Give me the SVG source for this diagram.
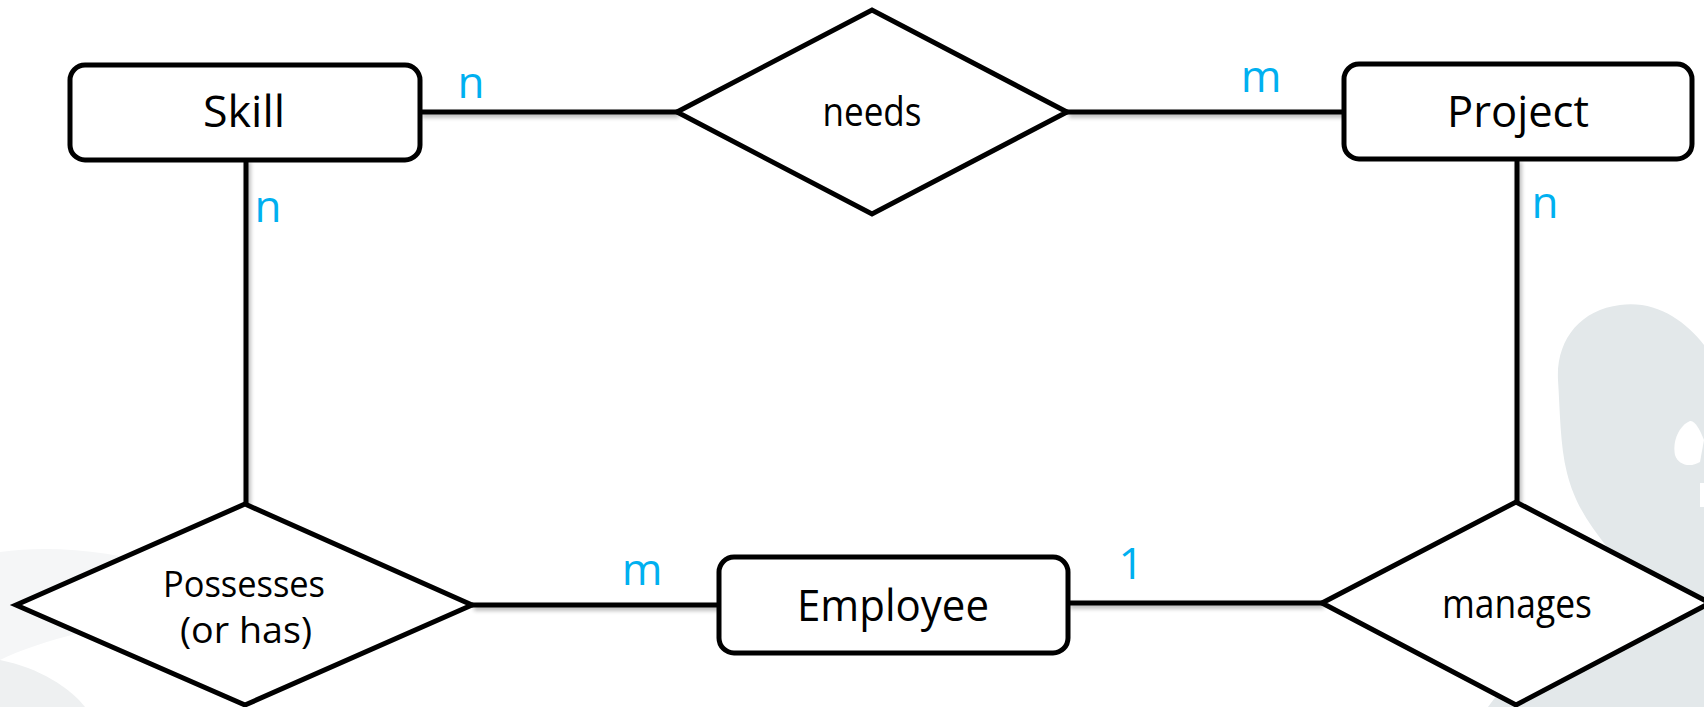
<svg xmlns="http://www.w3.org/2000/svg" width="1704" height="707" viewBox="0 0 1704 707">
<defs>
<filter id="sh" x="-5%" y="-50%" width="110%" height="200%">
<feGaussianBlur in="SourceAlpha" stdDeviation="2"/>
<feOffset dx="2" dy="3" result="o"/>
<feComponentTransfer><feFuncA type="linear" slope="0.3"/></feComponentTransfer>
<feMerge><feMergeNode/><feMergeNode in="SourceGraphic"/></feMerge>
</filter>
</defs>
<style>
.ent{fill:#fff;stroke:#000;stroke-width:5}
.rel{fill:#fff;stroke:#000;stroke-width:5;stroke-linejoin:miter}
.con{stroke:#000;stroke-width:5;fill:none}
.t{font-family:"Open Sans","Noto Sans","DejaVu Sans",sans-serif;fill:#000;text-anchor:middle}
.lb{font-family:"Open Sans","Noto Sans","DejaVu Sans",sans-serif;fill:#00B0F0;font-size:44px;text-anchor:middle}
</style>
<rect width="1704" height="707" fill="#fff"/>
<g id="background">
<path d="M0,552 C50,545 110,550 170,568 L150,620 L80,633 C50,640 20,650 0,660 Z" fill="#F5F6F7"/>
<path d="M0,660 C40,668 70,688 85,707 L0,707 Z" fill="#EEF0F1"/>
<path d="M1558,380 C1556,340 1580,310 1620,305 C1655,300 1685,320 1704,345 L1704,707 L1488,707 C1530,650 1590,590 1607,547 C1590,525 1575,505 1567,473 C1560,445 1560,410 1558,380 Z" fill="#E3E8EA"/>
<path d="M1690,421 C1680,425 1672,440 1675,455 C1678,465 1690,468 1700,462 L1704,440 C1700,430 1695,420 1690,421 Z" fill="#fff"/>
<path d="M1700,483 L1704,483 L1704,507 L1700,507 Z" fill="#fff"/>
</g>
<g id="connectors" filter="url(#sh)">
<line class="con" x1="420" y1="112" x2="677" y2="112"/>
<line class="con" x1="1067" y1="112" x2="1344" y2="112"/>
<line class="con" x1="246" y1="159" x2="246" y2="504"/>
<line class="con" x1="1517" y1="159" x2="1517" y2="502"/>
<line class="con" x1="472" y1="605" x2="719" y2="605"/>
<line class="con" x1="1068" y1="603" x2="1322" y2="603"/>
</g>
<g id="labels">
<text class="lb" x="471" y="98">n</text>
<text class="lb" x="1261" y="92">m</text>
<text class="lb" x="268" y="222">n</text>
<text class="lb" x="1545" y="218">n</text>
<text class="lb" x="642" y="585">m</text>
<text class="lb" x="1131" y="579">1</text>
</g>
<g id="skill">
<rect class="ent" x="70" y="65" width="350" height="95" rx="15"/>
<text class="t" x="244" y="127" font-size="44" textLength="82" lengthAdjust="spacingAndGlyphs">Skill</text>
</g>
<g id="project">
<rect class="ent" x="1344" y="64" width="348" height="95" rx="15"/>
<text class="t" x="1518" y="127" font-size="44" textLength="142" lengthAdjust="spacingAndGlyphs">Project</text>
</g>
<g id="employee">
<rect class="ent" x="719" y="557" width="349" height="96" rx="15"/>
<text class="t" x="893" y="621" font-size="44" textLength="192" lengthAdjust="spacingAndGlyphs">Employee</text>
</g>
<g id="needs">
<polygon class="rel" points="677,112 872,10 1067,112 872,214"/>
<text class="t" x="872" y="126" font-size="40" textLength="99" lengthAdjust="spacingAndGlyphs">needs</text>
</g>
<g id="possesses">
<polygon class="rel" points="16,605 245,504 472,605 245,705"/>
<text class="t" x="244" y="597" font-size="36" textLength="162" lengthAdjust="spacingAndGlyphs">Possesses</text>
<text class="t" x="246" y="643" font-size="36" textLength="132" lengthAdjust="spacingAndGlyphs">(or has)</text>
</g>
<g id="manages">
<polygon class="rel" points="1322,603 1516,502 1710,603 1516,705"/>
<text class="t" x="1517" y="618" font-size="40" textLength="150" lengthAdjust="spacingAndGlyphs">manages</text>
</g>
</svg>
